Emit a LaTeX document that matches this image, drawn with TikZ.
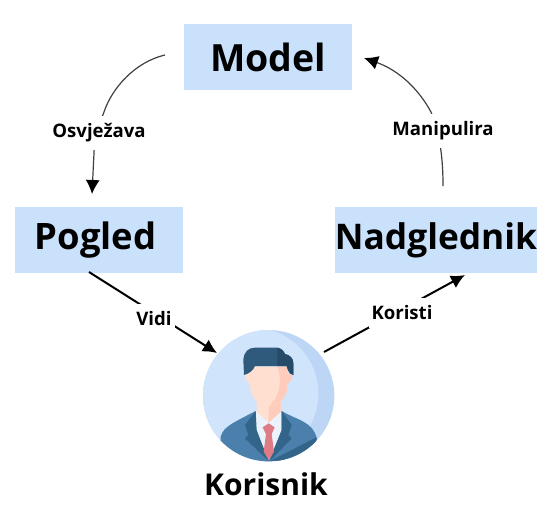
\documentclass[tikz,border=0pt]{standalone}
\usepackage{fontspec}
\setmainfont{Open Sans}
\usetikzlibrary{arrows.meta}
\definecolor{boxblue}{HTML}{CAE1FC}
\definecolor{linegray}{HTML}{404040}
\definecolor{bgA}{HTML}{D0E4FB}
\definecolor{bgB}{HTML}{BDD6F6}
\definecolor{suitA}{HTML}{4A80AB}
\definecolor{suitB}{HTML}{33648A}
\definecolor{skinA}{HTML}{FFDFD0}
\definecolor{skinB}{HTML}{FFCBBB}
\definecolor{hairA}{HTML}{2F5A7C}
\definecolor{hairB}{HTML}{264B68}
\definecolor{shirt}{HTML}{EAF3FB}
\definecolor{tieC}{HTML}{DE7B84}
\tikzset{
  boxnode/.style={fill=boxblue,minimum height=66pt,inner sep=0pt,font=\bfseries},
  lbl/.style={fill=white,inner xsep=3pt,inner ysep=8pt,font=\fontsize{18.6}{19}\selectfont\bfseries},
  conn/.style={draw=black,line width=2pt},
  thinconn/.style={draw=linegray,line width=1.2pt},
  head/.style={-{Latex[length=14pt,width=14pt,black]}},
}
\begin{document}
\begin{tikzpicture}[x=1pt,y=-1pt]
\useasboundingbox (0,0) rectangle (556,517);
\node[boxnode,minimum width=168pt,font=\fontsize{37.5}{38}\selectfont\bfseries] (model) at (268,57) {Model};
\node[boxnode,minimum width=168pt,font=\fontsize{36.4}{36}\selectfont\bfseries] (pogled) at (99,240) {Pogled\kern7pt};
\node[boxnode,minimum width=202pt,font=\fontsize{35.3}{36}\selectfont\bfseries] (nad) at (436,240) {Nadglednik};
\coordinate (a1) at (165,55);
\coordinate (a2) at (92,194);
\coordinate (b1) at (443,186);
\coordinate (b2) at (364,58);
\coordinate (c1) at (89,272);
\coordinate (c2) at (217,353);
\coordinate (d1) at (324,352);
\coordinate (d2) at (465,275);
\draw[thinconn,head] (a1) .. controls (135,62) and (112,88) .. (104,112) .. controls (98,128) and (94,140) .. (94,153) -- (a2);
\draw[thinconn,head] (b1) .. controls (443,150) and (438,130) .. (431,112) .. controls (418,88) and (398,70) .. (b2);
\draw[conn,head] (c1) -- (c2);
\draw[conn,head] (d1) -- (d2);
\node[lbl] (osv) at (99,133) {Osvježava};
\node[lbl] (man) at (443,131) {Manipulira};
\node[lbl] (vidi) at (154,319) {Vidi};
\node[lbl] (kor) at (402,313) {Koristi};
% avatar
\begin{scope}[shift={(190,330)},x=0.33333pt,y=-0.33333pt]
\fill[bgB] (236,197) circle[radius=197];
\begin{scope}
\clip (236,197) circle[radius=197];
\fill[bgA] (188,190) circle[radius=197];
\end{scope}
\begin{scope}
\clip (236,197) circle[radius=197];
% suit
\fill[suitA] (92,320) .. controls (100,290) and (130,278) .. (197,243) -- (275,243) .. controls (320,270) and (370,275) .. (380,325) -- (380,420) -- (92,420) -- cycle;
\fill[suitB] (380,322) .. controls (340,340) and (300,365) .. (240,392) -- (300,392) -- (380,350) -- cycle;
\end{scope}
% shirt
\fill[shirt] (197,243) -- (275,243) -- (275,300) -- (237,390) -- (197,300) -- cycle;
% lapels
\fill[suitB] (197,243) -- (165,285) -- (175,315) -- (165,325) -- (235,392) -- (200,300) -- cycle;
\fill[suitB] (275,243) -- (305,285) -- (295,315) -- (305,325) -- (240,392) -- (275,300) -- cycle;
% tie
\fill[tieC] (218,292) -- (236,280) -- (254,292) -- (245,312) -- (252,365) -- (236,390) -- (221,365) -- (228,312) -- cycle;
% neck
\fill[skinA] (200,200) -- (272,200) -- (272,245) -- (236,278) -- (200,245) -- cycle;
\fill[skinB] (236,225) .. controls (250,228) and (262,225) .. (272,215) -- (272,245) -- (236,278) -- cycle;
% face
\fill[skinA] (180,110) -- (292,110) -- (292,170) .. controls (290,205) and (262,230) .. (236,230) .. controls (210,230) and (182,205) .. (180,170) -- cycle;
\fill[skinB] (262,110) -- (292,110) -- (292,170) .. controls (290,205) and (262,230) .. (236,230) .. controls (265,205) and (280,160) .. (262,110) -- cycle;
\fill[skinA] (165,130) -- (182,130) -- (182,160) .. controls (170,160) and (165,145) .. (165,130) -- cycle;
\fill[skinB] (292,130) -- (308,130) .. controls (308,145) and (302,160) .. (292,160) -- cycle;
% hair
\fill[hairA] (162,135) -- (160,90) .. controls (162,65) and (175,53) .. (195,53) -- (262,53) .. controls (275,55) and (282,65) .. (285,72) .. controls (300,75) and (310,85) .. (310,100) -- (310,135) -- (300,130) .. controls (295,125) and (292,115) .. (290,108) -- (195,108) .. controls (190,120) and (180,130) .. (162,135) -- cycle;
\fill[hairB] (262,53) .. controls (275,55) and (282,65) .. (285,72) .. controls (300,75) and (310,85) .. (310,100) -- (310,135) -- (300,130) .. controls (295,125) and (292,115) .. (290,108) -- (262,108) -- cycle;
\end{scope}
\node[font=\fontsize{30}{30}\selectfont\bfseries] (user) at (266,484) {Korisnik};
\end{tikzpicture}
\end{document}
